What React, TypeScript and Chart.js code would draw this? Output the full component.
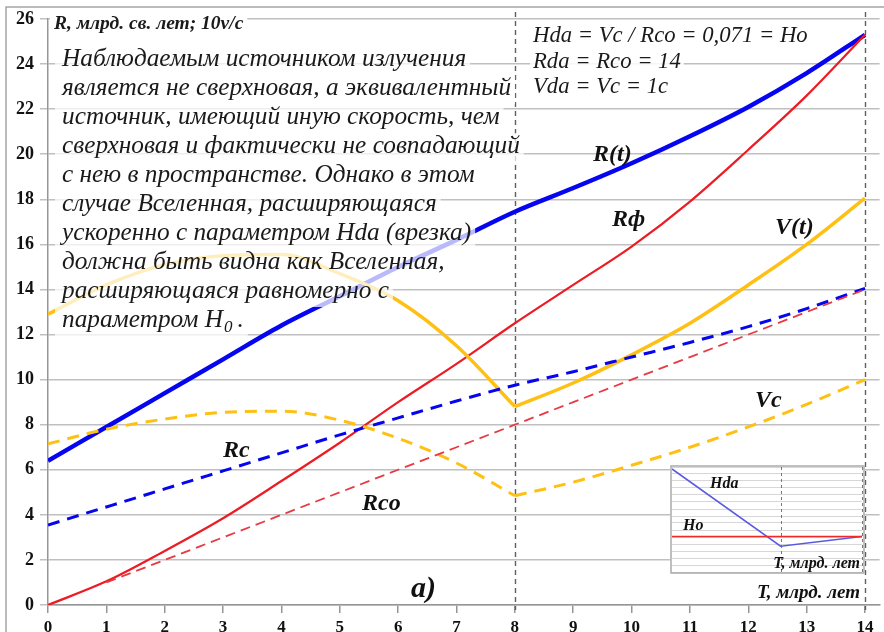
import React, { useEffect, useRef } from "react";
import { Chart, registerables } from "chart.js";

Chart.register(...registerables);

// ---------- data ----------
const T = [0, 1, 2, 3, 4, 5, 6, 7, 8, 9, 10, 11, 12, 13, 14];
const R_T = [6.4, 7.9, 9.4, 10.9, 12.4, 13.7, 15.0, 16.2, 17.45, 18.5, 19.6, 20.8, 22.1, 23.6, 25.3];
const R_F = [0, 1.05, 2.4, 3.85, 5.5, 7.2, 9.0, 10.7, 12.5, 14.2, 15.9, 17.9, 20.2, 22.6, 25.3];
const R_C = [3.55, 4.35, 5.15, 5.95, 6.75, 7.55, 8.3, 9.05, 9.75, 10.35, 11.0, 11.65, 12.35, 13.15, 14.05];
const R_CO = [null, 1, 2, 3, 4, 5, 6, 7, 8, 9, 10, 11, 12, 13, 14];
const V_T = [12.9, 14.2, 15.1, 15.5, 15.55, 14.7, 13.5, 11.5, 8.8, 9.85, 11.1, 12.5, 14.2, 16.0, 18.05];
const V_C = [7.15, 7.8, 8.25, 8.55, 8.6, 8.2, 7.4, 6.3, 4.85, 5.45, 6.2, 7.0, 7.9, 8.9, 10.0];
const KINK_T = 8; // V(t) and Vc break at this time
const MARK_LINES_T = [8, 14];

// inset
const INSET_T = [0, 8, 14];
const INSET_HDA = [0.206, 0.0515, 0.071];
const INSET_HO = [0.071, 0.071, 0.071];

const Y_TITLE = "R, млрд. св. лет; 10v/c";
const X_TITLE = "T, млрд. лет";
const NOTE_LINES = [
  "Наблюдаемым источником излучения",
  "является не сверхновая, а эквивалентный",
  "источник, имеющий иную скорость, чем",
  "сверхновая и фактически не совпадающий",
  "с нею в пространстве. Однако в этом",
  "случае Вселенная, расширяющаяся",
  "ускоренно с параметром Hda (врезка)",
  "должна быть видна как Вселенная,",
  "расширяющаяся равномерно с",
];
const NOTE_LAST = ["параметром H", "0", "."];
const FORMULA_LINES = [
  "Hda = Vc / Rco = 0,071 = Ho",
  "Rda = Rco = 14",
  "Vda = Vc = 1c",
];

const SERIF = '"Liberation Serif", "Times New Roman", serif';

function pts(xs: number[], ys: (number | null)[], from = 0, to = xs.length - 1) {
  const out: { x: number; y: number }[] = [];
  for (let i = from; i <= to; i++) {
    const y = ys[i];
    if (y !== null && y !== undefined) out.push({ x: xs[i], y });
  }
  return out;
}

function boxText(
  ctx: CanvasRenderingContext2D,
  text: string,
  x: number,
  baseline: number,
  font: string,
  bg: string,
  asc: number,
  desc: number,
  padL = 3,
  padR = 4
) {
  ctx.font = font;
  const w = ctx.measureText(text).width;
  ctx.fillStyle = bg;
  ctx.fillRect(x - padL, baseline - asc, w + padL + padR, asc + desc);
  ctx.fillStyle = "#1a1a1a";
  ctx.fillText(text, x, baseline);
  return w;
}

const mainPlugin = {
  id: "mainDecor",
  beforeDraw(chart: any) {
    const ctx = chart.ctx as CanvasRenderingContext2D;
    ctx.save();
    ctx.fillStyle = "#ffffff";
    ctx.fillRect(0, 0, chart.width, chart.height);
    // outer frame
    ctx.strokeStyle = "rgb(165,165,165)";
    ctx.lineWidth = 1.5;
    ctx.beginPath();
    ctx.moveTo(6, chart.height);
    ctx.lineTo(6, 7);
    ctx.lineTo(chart.width, 7);
    ctx.stroke();
    ctx.restore();
  },
  beforeDatasetsDraw(chart: any) {
    const ctx = chart.ctx as CanvasRenderingContext2D;
    const xs = chart.scales.x;
    const area = chart.chartArea;
    ctx.save();
    ctx.strokeStyle = "rgb(95,95,95)";
    ctx.lineWidth = 1.4;
    ctx.setLineDash([5, 4]);
    for (const t of MARK_LINES_T) {
      const px = Math.round(xs.getPixelForValue(t)) + 0.5;
      ctx.beginPath();
      ctx.moveTo(px, 12);
      ctx.lineTo(px, area.bottom + 5);
      ctx.stroke();
    }
    ctx.restore();
  },
  afterDatasetsDraw(chart: any) {
    const ctx = chart.ctx as CanvasRenderingContext2D;
    ctx.save();
    ctx.textBaseline = "alphabetic";
    ctx.textAlign = "left";

    // axis title (top-left)
    boxText(ctx, Y_TITLE, 54, 29, `italic bold 19.5px ${SERIF}`, "#ffffff", 16, 6, 4, 4);

    // explanatory note
    const noteFont = `italic 25.3px ${SERIF}`;
    const subFont = `italic 17px ${SERIF}`;
    const noteBg = "rgba(255,255,255,0.72)";
    NOTE_LINES.forEach((line, i) => {
      boxText(ctx, line, 62, 66 + 29 * i, noteFont, noteBg, 20, 9, 7, 4);
    });
    {
      const base = 66 + 29 * NOTE_LINES.length;
      ctx.font = noteFont;
      const w0 = ctx.measureText(NOTE_LAST[0]).width;
      ctx.font = subFont;
      const w1 = ctx.measureText(NOTE_LAST[1]).width;
      ctx.font = noteFont;
      const w2 = ctx.measureText(NOTE_LAST[2]).width;
      ctx.fillStyle = noteBg;
      ctx.fillRect(55, base - 20, w0 + w1 + w2 + 7 + 10, 29);
      ctx.fillStyle = "#1a1a1a";
      ctx.font = noteFont;
      ctx.fillText(NOTE_LAST[0], 62, base);
      ctx.font = subFont;
      ctx.fillText(NOTE_LAST[1], 62 + w0 + 1, base + 5);
      ctx.font = noteFont;
      ctx.fillText(NOTE_LAST[2], 62 + w0 + w1 + 6, base);
    }

    // formulas (top-right)
    const fFont = `italic 22.7px ${SERIF}`;
    FORMULA_LINES.forEach((line, i) => {
      boxText(ctx, line, 533, 42 + 25.5 * i, fFont, "rgba(255,255,255,0.85)", 18, 7, 3, 3);
    });

    // curve labels
    ctx.fillStyle = "#111";
    ctx.font = `italic bold 24px ${SERIF}`;
    ctx.fillText("R(t)", 593, 161);
    ctx.fillText("Rф", 612, 226);
    ctx.fillText("V(t)", 775, 234);
    ctx.fillText("Vc", 755, 407);
    ctx.fillText("Rc", 223, 457);
    ctx.fillText("Rco", 362, 510);
    ctx.font = `italic bold 30px ${SERIF}`;
    ctx.fillText("a)", 411, 597);

    // x title
    ctx.font = `italic bold 19px ${SERIF}`;
    ctx.textAlign = "right";
    ctx.fillText(X_TITLE, 860, 598);
    ctx.restore();
  },
};

const insetPlugin = {
  id: "insetDecor",
  beforeDraw(chart: any) {
    const ctx = chart.ctx as CanvasRenderingContext2D;
    ctx.save();
    ctx.fillStyle = "#ffffff";
    ctx.fillRect(0, 0, chart.width, chart.height);
    ctx.restore();
  },
  beforeDatasetsDraw(chart: any) {
    const ctx = chart.ctx as CanvasRenderingContext2D;
    const xs = chart.scales.x;
    const area = chart.chartArea;
    ctx.save();
    ctx.strokeStyle = "rgb(120,120,120)";
    ctx.lineWidth = 1;
    ctx.setLineDash([3, 3]);
    for (const t of MARK_LINES_T) {
      const px = Math.round(xs.getPixelForValue(t)) + 0.5;
      ctx.beginPath();
      ctx.moveTo(px, area.top);
      ctx.lineTo(px, area.bottom);
      ctx.stroke();
    }
    ctx.restore();
  },
  afterDatasetsDraw(chart: any) {
    const ctx = chart.ctx as CanvasRenderingContext2D;
    ctx.save();
    ctx.strokeStyle = "rgb(170,170,170)";
    ctx.lineWidth = 1.5;
    ctx.strokeRect(1, 1, chart.width - 2, chart.height - 2);
    ctx.fillStyle = "#111";
    ctx.textBaseline = "alphabetic";
    ctx.font = `italic bold 16px ${SERIF}`;
    ctx.textAlign = "left";
    ctx.fillText("Hda", 40, 23);
    ctx.fillText("Ho", 13, 65);
    ctx.textAlign = "right";
    ctx.fillText(X_TITLE, 190, 103);
    ctx.restore();
  },
};

export default function App() {
  const mainRef = useRef<HTMLCanvasElement>(null);
  const insetRef = useRef<HTMLCanvasElement>(null);

  useEffect(() => {
    if (!mainRef.current || !insetRef.current) return;
    const BLUE = "rgb(5,5,240)";
    const RED = "rgb(236,28,36)";
    const GOLD = "rgb(255,192,20)";
    const lineBase = { pointRadius: 0, fill: false, cubicInterpolationMode: "monotone" as const };

    const main = new Chart(mainRef.current, {
      type: "line",
      data: {
        datasets: [
          { ...lineBase, label: "Rco", data: pts(T, R_CO), borderColor: "rgb(232,58,66)", borderWidth: 1.8, borderDash: [10, 6] },
          { ...lineBase, label: "Vc", data: pts(T, V_C, 0, T.indexOf(KINK_T)), borderColor: GOLD, borderWidth: 3, borderDash: [12, 8] },
          { ...lineBase, label: "Vc2", data: pts(T, V_C, T.indexOf(KINK_T)), borderColor: GOLD, borderWidth: 3, borderDash: [12, 8] },
          { ...lineBase, label: "Rc", data: pts(T, R_C), borderColor: BLUE, borderWidth: 3, borderDash: [12, 8] },
          { ...lineBase, label: "V(t)", data: pts(T, V_T, 0, T.indexOf(KINK_T)), borderColor: GOLD, borderWidth: 3.5 },
          { ...lineBase, label: "V(t)2", data: pts(T, V_T, T.indexOf(KINK_T)), borderColor: GOLD, borderWidth: 3.5 },
          { ...lineBase, label: "Rф", data: pts(T, R_F), borderColor: RED, borderWidth: 2.2 },
          { ...lineBase, label: "R(t)", data: pts(T, R_T), borderColor: BLUE, borderWidth: 4.5 },
        ],
      },
      options: {
        animation: false,
        responsive: false,
        maintainAspectRatio: false,
        layout: { padding: { left: 0, top: 19, right: 4.4, bottom: 0 } },
        plugins: { legend: { display: false }, tooltip: { enabled: false }, title: { display: false } },
        scales: {
          x: {
            type: "linear",
            min: 0,
            max: 14.25,
            afterFit: (s: any) => {
              s.height = 27;
            },
            ticks: {
              stepSize: 1,
              includeBounds: false,
              autoSkip: false,
              maxRotation: 0,
              padding: 4,
              color: "#111",
              font: { family: SERIF, size: 17, weight: "bold" },
            },
            grid: { drawOnChartArea: false, drawTicks: true, tickLength: 8, color: "rgb(150,150,150)", lineWidth: 1.5 },
            border: { display: true, color: "rgb(150,150,150)", width: 1.5 },
          },
          y: {
            type: "linear",
            min: 0,
            max: 26,
            afterFit: (s: any) => {
              s.width = 48;
            },
            ticks: {
              stepSize: 2,
              padding: 6,
              color: "#111",
              font: { family: SERIF, size: 18, weight: "bold" },
            },
            grid: { color: "rgb(192,192,192)", lineWidth: 1.5, drawTicks: true, tickLength: 8 },
            border: { display: true, color: "rgb(150,150,150)", width: 1.5 },
          },
        },
      } as any,
      plugins: [mainPlugin],
    });

    const inset = new Chart(insetRef.current, {
      type: "line",
      data: {
        datasets: [
          { label: "Ho", data: pts(INSET_T, INSET_HO), borderColor: "rgb(240,40,40)", borderWidth: 1.5, pointRadius: 0, tension: 0 },
          { label: "Hda", data: pts(INSET_T, INSET_HDA), borderColor: "rgb(90,90,225)", borderWidth: 1.6, pointRadius: 0, tension: 0 },
        ],
      },
      options: {
        animation: false,
        responsive: false,
        maintainAspectRatio: false,
        layout: { padding: { left: 2, top: 2, right: 3, bottom: 2 } },
        plugins: { legend: { display: false }, tooltip: { enabled: false } },
        scales: {
          x: { type: "linear", min: 0, max: 14, display: false },
          y: {
            type: "linear",
            min: 0,
            max: 0.21,
            afterFit: (s: any) => {
              s.width = 0;
            },
            ticks: { display: false, stepSize: 0.014 },
            grid: { color: "rgb(215,215,215)", lineWidth: 1, drawTicks: false },
            border: { display: false },
          },
        },
      } as any,
      plugins: [insetPlugin],
    });

    return () => {
      main.destroy();
      inset.destroy();
    };
  }, []);

  return (
    <div style={{ position: "fixed", left: 0, top: 0, width: 884, height: 632, background: "#fff", overflow: "hidden" }}>
      <canvas ref={mainRef} width={884} height={632} style={{ position: "absolute", left: 0, top: 0, width: 884, height: 632 }} />
      <canvas ref={insetRef} width={195} height={109} style={{ position: "absolute", left: 670, top: 465, width: 195, height: 109 }} />
    </div>
  );
}
